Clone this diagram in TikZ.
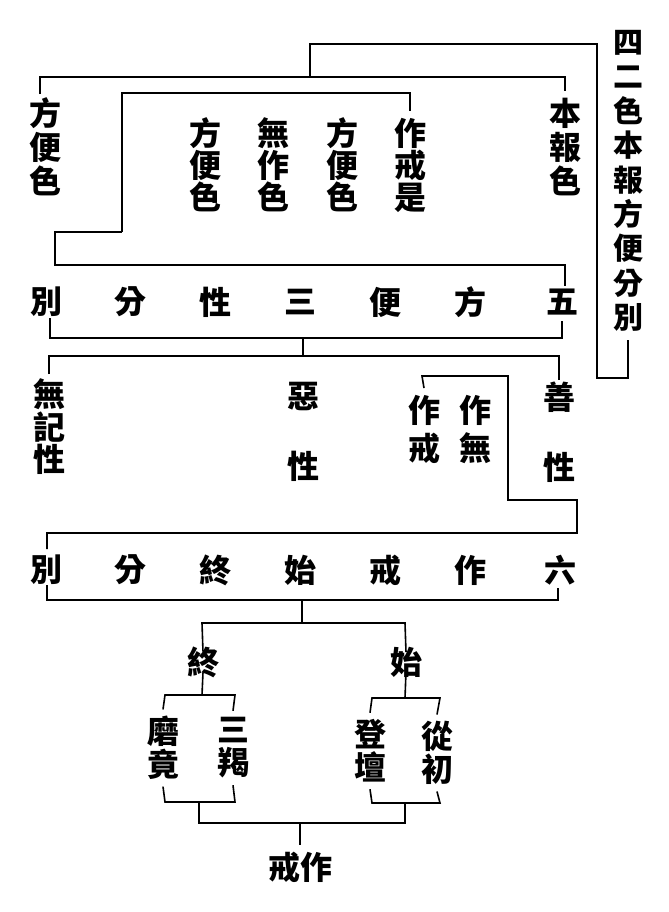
\documentclass[tikz,border=0pt]{standalone}
\usepackage{fontspec}
\newfontfamily\cjk{Noto Sans CJK TC}
\begin{document}
\begin{tikzpicture}[x=0.5pt,y=-0.5pt,line width=0.8pt,
  zi/.style={inner sep=0pt,align=center,font=\cjk\bfseries\fontsize{16}{#1}\selectfont},
  zi/.default=17]
\fill[white] (0,0) rectangle (669,912);
\useasboundingbox (0,0) rectangle (669,912);
%% Title
\node[zi=17.2,font=\cjk\bfseries\fontsize{15}{17.2}\selectfont] (tit) at (628,181) {四\\二\\色\\本\\報\\方\\便\\分\\別};
\draw ([yshift=-4pt]tit.south) -- (628,378) -- (597,378) -- (597,44) -- (310,44) -- (310,77);
%% Four kinds of colour
\node[zi] (hb1) at (45,147) {方\\便\\色};
\node[zi] (bh) at (565,147) {本\\報\\色};
\node[zi=16] (zjs) at (410,165) {作\\戒\\是};
\node[zi=16] (hb2) at (342,165) {方\\便\\色};
\node[zi=16] (wzs) at (273,165) {無\\作\\色};
\node[zi=16] (hb3) at (205,165) {方\\便\\色};
\draw (40,94) -- (40,77) -- (565,77) -- ([yshift=3pt]bh.north);
\draw (122,232) -- (122,93) -- (410,93) -- ([yshift=3pt]zjs.north);
\draw (122,232) -- (55,232) -- (55,265) -- (565,265) -- (565,286);
%% Five expedients, three natures
\node[zi] (f1) at (47,302) {別};
\node[zi] (f2) at (130,302) {分};
\node[zi] (f3) at (215,302) {性};
\node[zi] (f4) at (300,302) {三};
\node[zi] (f5) at (385,302) {便};
\node[zi] (f6) at (470,302) {方};
\node[zi] (f7) at (562,302) {五};
\draw (50,318) -- (50,338) -- (562,338) -- (562,321);
\draw (303,338) -- (303,356);
\draw (49,374) -- (49,356) -- (559,356) -- (559,380);
\node[zi=15] (wjx) at (49,427) {無\\記\\性};
\node[zi=35] (ex) at (303,432) {惡\\性};
\node[zi=35] (sx) at (559,432) {善\\性};
\node[zi=19] (zj) at (424,429) {作\\戒};
\node[zi=19] (zw) at (475,429) {作\\無};
\draw ([yshift=3pt]zj.north) -- (422,376) -- (508,376) -- (508,500) -- (577,500) -- (577,533) -- (47,533) -- (47,549);
%% Six: beginning and end of the precepts
\node[zi] (s1) at (47,570) {別};
\node[zi] (s2) at (130,570) {分};
\node[zi] (s3) at (215,570) {終};
\node[zi] (s4) at (300,570) {始};
\node[zi] (s5) at (385,570) {戒};
\node[zi] (s6) at (470,570) {作};
\node[zi] (s7) at (560,570) {六};
\draw (47,585) -- (47,600) -- (558,600) -- (558,588);
\draw (302,600) -- (302,623);
\node[zi] (zhong) at (203,662) {終};
\node[zi] (shi) at (406,662) {始};
\draw ([yshift=-3pt]zhong.north) -- (202,623) -- (405,623) -- ([yshift=-3pt]shi.north);
%% End
\node[zi=16.5] (mj) at (163,748) {磨\\竟};
\node[zi=16.5] (sj) at (233,748) {三\\羯};
\draw ([yshift=3pt]zhong.south) -- (202,695);
\draw ([yshift=3pt]mj.north) -- (165,695) -- (235,695) -- ([yshift=3pt]sj.north);
\draw ([yshift=-3pt]mj.south) -- (165,802) -- (235,802) -- ([yshift=-3pt]sj.south);
%% Beginning
\node[zi=16.5] (dt) at (370,751) {登\\壇};
\node[zi=16.5] (cc) at (437,753) {從\\初};
\draw ([yshift=3pt]shi.south) -- (405,698);
\draw ([yshift=3pt]dt.north) -- (372,698) -- (440,698) -- ([yshift=3pt]cc.north);
\draw ([yshift=-3pt]dt.south) -- (372,803) -- (440,803) -- ([yshift=-3pt]cc.south);
%% Whole precept act
\node[zi] (jz) at (300,867) {戒作};
\draw (199,802) -- (199,823) -- (405,823) -- (405,803);
\draw (300,823) -- ([yshift=3pt]jz.north);
\end{tikzpicture}
\end{document}
